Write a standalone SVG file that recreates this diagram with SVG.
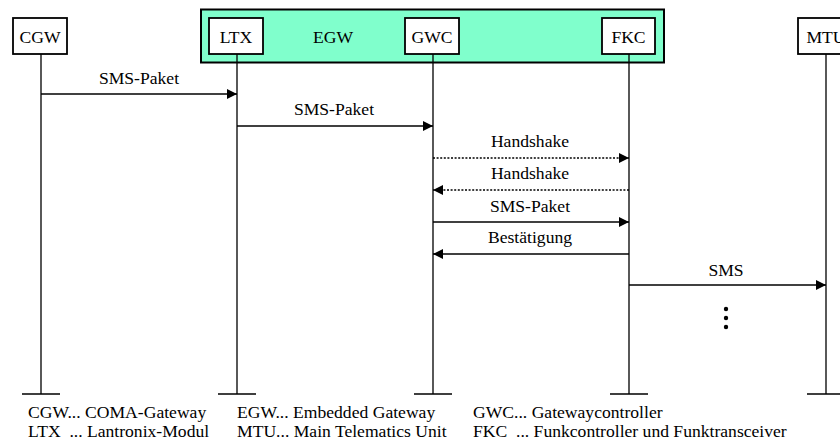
<svg xmlns="http://www.w3.org/2000/svg" width="840" height="441" viewBox="0 0 840 441">
<style>
text{font-family:"Liberation Serif","Times New Roman","DejaVu Serif",serif;font-size:17.6px;fill:#000}
.c{text-anchor:middle}
.box{fill:#fff;stroke:#000;stroke-width:1.8}
.life{stroke:#000;stroke-width:1.3;fill:none}
.msg{stroke:#000;stroke-width:1.5;fill:none}
.dot{stroke-dasharray:2 1.6}
</style>
<defs>
<marker id="ah" viewBox="0 0 10 10" refX="10" refY="5" markerWidth="10" markerHeight="10" markerUnits="userSpaceOnUse" orient="auto">
<path d="M0,0 L10,5 L0,10 Z" fill="#000"/>
</marker>
</defs>
<rect id="EGW-group" x="201" y="9.5" width="463" height="53" fill="#80FFCC" stroke="#000" stroke-width="2"/>
<text class="c" x="333" y="43">EGW</text>
<g id="lifelines">
<path class="life" d="M41,54V394M22,394H60"/>
<path class="life" d="M237,54V394M218,394H256"/>
<path class="life" d="M433,54V394M414,394H452"/>
<path class="life" d="M629,54V394M610,394H648"/>
<path class="life" d="M826,54V394M807,394H845"/>
</g>
<g id="CGW"><rect class="box" x="13" y="18" width="54" height="36"/><text class="c" x="40" y="43">CGW</text></g>
<g id="LTX"><rect class="box" x="209" y="18" width="54" height="36"/><text class="c" x="236" y="43">LTX</text></g>
<g id="GWC"><rect class="box" x="405" y="18" width="54" height="36"/><text class="c" x="432" y="43">GWC</text></g>
<g id="FKC"><rect class="box" x="602" y="18" width="53" height="36"/><text class="c" x="628.5" y="43">FKC</text></g>
<g id="MTU"><rect class="box" x="798" y="18" width="56" height="36"/><text class="c" x="826" y="43">MTU</text></g>
<g id="connectors">
<path class="msg" d="M41,94H237" marker-end="url(#ah)"/>
<text class="c" x="139" y="84">SMS-Paket</text>
<path class="msg" d="M237,126H433" marker-end="url(#ah)"/>
<text class="c" x="334" y="115">SMS-Paket</text>
<path class="msg dot" d="M433,158H629" marker-end="url(#ah)"/>
<text class="c" x="530" y="147">Handshake</text>
<path class="msg dot" d="M629,190H433" marker-end="url(#ah)"/>
<text class="c" x="530" y="179">Handshake</text>
<path class="msg" d="M433,222H629" marker-end="url(#ah)"/>
<text class="c" x="530" y="212">SMS-Paket</text>
<path class="msg" d="M629,254H433" marker-end="url(#ah)"/>
<text class="c" x="530" y="243">Bestätigung</text>
<path class="msg" d="M629,285H826" marker-end="url(#ah)"/>
<text class="c" x="726" y="276">SMS</text>
</g>
<g id="ellipsis" fill="#000">
<circle cx="726" cy="309" r="2.2"/>
<circle cx="726" cy="318" r="2.2"/>
<circle cx="726" cy="327" r="2.2"/>
</g>
<g id="legend">
<text x="28" y="418">CGW... COMA-Gateway</text>
<text x="28" y="437" xml:space="preserve">LTX  ... Lantronix-Modul</text>
<text x="237" y="418">EGW... Embedded Gateway</text>
<text x="237" y="437">MTU... Main Telematics Unit</text>
<text x="473" y="418">GWC... Gatewaycontroller</text>
<text x="473" y="437" xml:space="preserve">FKC  ... Funkcontroller und Funktransceiver</text>
</g>
</svg>
